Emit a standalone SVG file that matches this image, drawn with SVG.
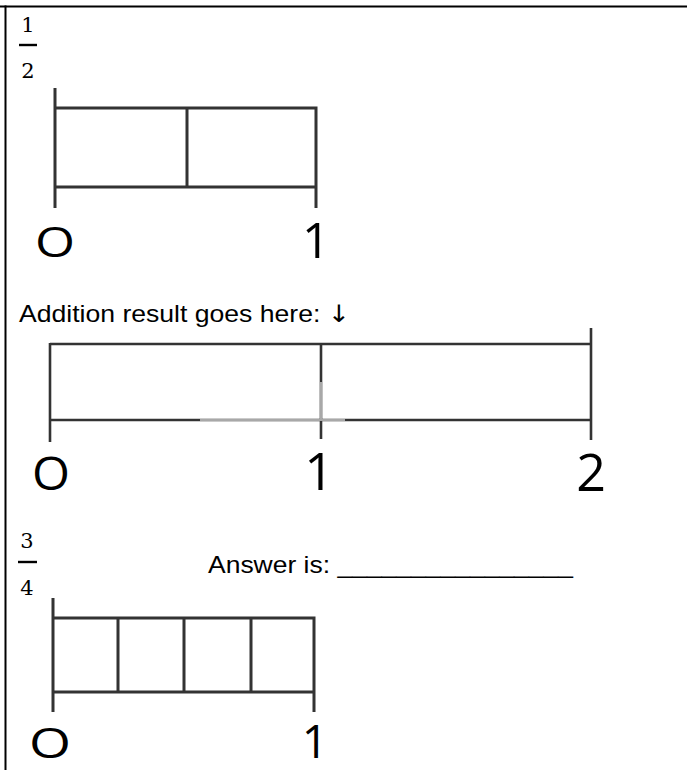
<svg xmlns="http://www.w3.org/2000/svg" width="687" height="770" viewBox="0 0 687 770">
<style>
.ln{stroke:#333;stroke-width:3;fill:none;stroke-linecap:butt}
.ln2{stroke:#333;stroke-width:2.6;fill:none}
.lt{stroke:#a8a8a8;stroke-width:2.2;fill:none}
.frac{font-family:"DejaVu Serif","Liberation Serif",serif;font-size:21px;fill:#000}
.body{font-family:"Liberation Sans",Arial,sans-serif;font-size:24px;fill:#000}
.arrow{font-family:"DejaVu Sans",sans-serif}
.num{font-family:"Open Sans","Liberation Sans",sans-serif;font-weight:500;fill:#000}
</style>
<rect width="687" height="770" fill="#fff"/>
<g id="border">
<line x1="0" y1="6.5" x2="687" y2="6.5" stroke="#000" stroke-width="2"/>
<line x1="5.5" y1="5.5" x2="5.5" y2="770" stroke="#000" stroke-width="2"/>
</g>

<g id="fraction-half">
<text class="frac" x="28" y="32" text-anchor="middle">1</text>
<line x1="19" y1="45" x2="37" y2="45" stroke="#000" stroke-width="2.4"/>
<text class="frac" x="28" y="78" text-anchor="middle">2</text>
</g>

<g id="numberline-half">
<path class="ln" d="M55,88 V208 M55,108 H316 V208 M55,187 H316 M187,108 V187"/>
<text class="num" x="35" y="257" font-size="42" textLength="40" lengthAdjust="spacingAndGlyphs">O</text>
<text class="num" x="316" y="258" font-size="49" text-anchor="middle">1</text>
</g>

<g id="addition-label">
<text class="body" x="19" y="322" textLength="331" lengthAdjust="spacingAndGlyphs">Addition result goes here: <tspan class="arrow">↓</tspan></text>
</g>

<g id="numberline-result">
<path class="ln2" d="M50,343 V442 M50,344 H591 M591,328 V440 M321,343 V439 M50,420 H591"/>
<path class="lt" d="M200,420 H345 M321,382 V419"/>
<text class="num" x="32" y="490" font-size="46" textLength="38" lengthAdjust="spacingAndGlyphs">O</text>
<text class="num" x="319" y="490" font-size="52" text-anchor="middle">1</text>
<text class="num" x="591" y="491" font-size="52" text-anchor="middle">2</text>
</g>

<g id="fraction-three-quarters">
<text class="frac" x="27" y="548" text-anchor="middle">3</text>
<line x1="18" y1="562" x2="37" y2="562" stroke="#000" stroke-width="2.4"/>
<text class="frac" x="27" y="595" text-anchor="middle">4</text>
</g>

<g id="answer-label">
<text class="body" x="208" y="573" textLength="365" lengthAdjust="spacingAndGlyphs">Answer is: ________________</text>
</g>

<g id="numberline-quarters">
<path class="ln" d="M53,598 V712 M53,618 H314 V712 M53,692 H314 M118,618 V692 M184,618 V692 M251,618 V692"/>
<text class="num" x="29" y="758" font-size="42" textLength="42" lengthAdjust="spacingAndGlyphs">O</text>
<text class="num" x="315" y="758" font-size="46" text-anchor="middle">1</text>
</g>
</svg>
